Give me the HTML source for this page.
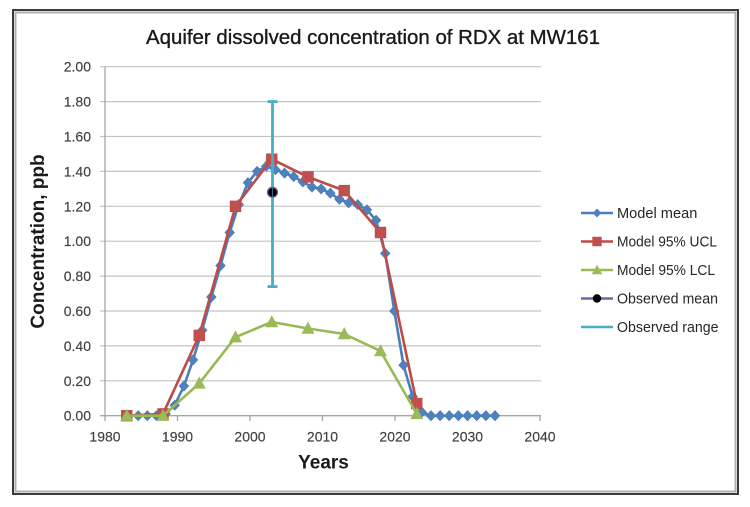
<!DOCTYPE html>
<html>
<head>
<meta charset="utf-8">
<style>
  html, body { margin: 0; padding: 0; background: #ffffff; }
  body { width: 750px; height: 507px; overflow: hidden; }
  svg { display: block; }
  text { font-family: "Liberation Sans", Arial, sans-serif; }
</style>
</head>
<body>
<svg width="750" height="507" viewBox="0 0 750 507" xmlns="http://www.w3.org/2000/svg">
  <rect x="0" y="0" width="750" height="507" fill="#ffffff"/>
  <!-- frame -->
  <rect x="13" y="10" width="725" height="484" fill="none" stroke="#3a3a3a" stroke-width="2"/>
  <rect x="15.5" y="12.5" width="720" height="479" fill="none" stroke="#b0b0b0" stroke-width="2"/>

  <!-- title -->
  <text x="373" y="44" font-size="20" fill="#1a1a1a" stroke="#1a1a1a" stroke-width="0.35" text-anchor="middle" textLength="454" lengthAdjust="spacingAndGlyphs">Aquifer dissolved concentration of RDX at MW161</text>

  <!-- gridlines -->
  <g stroke="#c4c4c4" stroke-width="1.2">
    <line x1="100" y1="66.7" x2="541" y2="66.7"/>
    <line x1="100" y1="101.6" x2="541" y2="101.6"/>
    <line x1="100" y1="136.5" x2="541" y2="136.5"/>
    <line x1="100" y1="171.4" x2="541" y2="171.4"/>
    <line x1="100" y1="206.3" x2="541" y2="206.3"/>
    <line x1="100" y1="241.2" x2="541" y2="241.2"/>
    <line x1="100" y1="276.1" x2="541" y2="276.1"/>
    <line x1="100" y1="311.0" x2="541" y2="311.0"/>
    <line x1="100" y1="345.9" x2="541" y2="345.9"/>
    <line x1="100" y1="380.8" x2="541" y2="380.8"/>
  </g>
  <!-- axes -->
  <g stroke="#a6a6a6" stroke-width="1.3">
    <line x1="105" y1="66.7" x2="105" y2="415.7"/>
    <line x1="100" y1="415.7" x2="541" y2="415.7"/>
    <line x1="105" y1="415.7" x2="105" y2="421"/>
    <line x1="177.5" y1="415.7" x2="177.5" y2="421"/>
    <line x1="250" y1="415.7" x2="250" y2="421"/>
    <line x1="322.5" y1="415.7" x2="322.5" y2="421"/>
    <line x1="395" y1="415.7" x2="395" y2="421"/>
    <line x1="467.5" y1="415.7" x2="467.5" y2="421"/>
    <line x1="540" y1="415.7" x2="540" y2="421"/>
  </g>

  <!-- y tick labels -->
  <g font-size="14" fill="#404040" stroke="#404040" stroke-width="0.15" text-anchor="end">
    <text x="91" y="71.7">2.00</text>
    <text x="91" y="106.6">1.80</text>
    <text x="91" y="141.5">1.60</text>
    <text x="91" y="176.4">1.40</text>
    <text x="91" y="211.3">1.20</text>
    <text x="91" y="246.2">1.00</text>
    <text x="91" y="281.1">0.80</text>
    <text x="91" y="316.0">0.60</text>
    <text x="91" y="350.9">0.40</text>
    <text x="91" y="385.8">0.20</text>
    <text x="91" y="420.7">0.00</text>
  </g>
  <!-- x tick labels -->
  <g font-size="14" fill="#404040" stroke="#404040" stroke-width="0.15" text-anchor="middle">
    <text x="105" y="441.7">1980</text>
    <text x="177.5" y="441.7">1990</text>
    <text x="250" y="441.7">2000</text>
    <text x="322.5" y="441.7">2010</text>
    <text x="395" y="441.7">2020</text>
    <text x="467.5" y="441.7">2030</text>
    <text x="540" y="441.7">2040</text>
  </g>

  <!-- axis titles -->
  <text x="323.5" y="468.5" font-size="19" font-weight="bold" fill="#1a1a1a" text-anchor="middle">Years</text>
  <text transform="translate(44 241.5) rotate(-90)" font-size="19" font-weight="bold" fill="#1a1a1a" text-anchor="middle">Concentration, ppb</text>

  <defs>
    <path id="dia" d="M0,-5 L4.7,0 L0,5 L-4.7,0 Z" fill="#4f81bd" stroke="#4a7ebb" stroke-width="0.8"/>
    <rect id="sq" x="-5.3" y="-5.3" width="10.6" height="10.6" fill="#c0504d" stroke="#be4b48" stroke-width="0.8"/>
    <path id="tri" d="M0,-6 L5.8,4.8 L-5.8,4.8 Z" fill="#9bbb59" stroke="#98b954" stroke-width="0.8"/>
  </defs>

  <!-- Model mean -->
  <polyline fill="none" stroke="#4a7ebb" stroke-width="2.6" stroke-linejoin="round"
    points="129,415.7 138.15,415.7 147.3,415.7 156.45,415.7 165.6,413.9 174.75,405.2 183.9,386 193.05,359.9 202.2,330.2 211.35,297 220.5,265.6 229.65,232.5 238.8,204.6 247.95,182.7 257.1,171.4 266.25,166.2 275.4,169.7 284.55,173.1 293.7,176.6 302.85,181.9 312,187.1 321.15,188.9 330.3,193.2 339.45,199.3 348.6,202.8 357.75,204.6 366.9,209.8 376.05,220.3 385.2,253.4 394.35,311 403.5,365.1 412.65,396.5 421.8,412.2 430.95,415.7 440.1,415.7 449.25,415.7 458.4,415.7 467.55,415.7 476.7,415.7 485.85,415.7 495,415.7"/>
  <g>
    <use href="#dia" x="129" y="415.7"/><use href="#dia" x="138.15" y="415.7"/><use href="#dia" x="147.3" y="415.7"/><use href="#dia" x="156.45" y="415.7"/>
    <use href="#dia" x="165.6" y="413.9"/><use href="#dia" x="174.75" y="405.2"/><use href="#dia" x="183.9" y="386"/><use href="#dia" x="193.05" y="359.9"/>
    <use href="#dia" x="202.2" y="330.2"/><use href="#dia" x="211.35" y="297"/><use href="#dia" x="220.5" y="265.6"/><use href="#dia" x="229.65" y="232.5"/>
    <use href="#dia" x="238.8" y="204.6"/><use href="#dia" x="247.95" y="182.7"/><use href="#dia" x="257.1" y="171.4"/><use href="#dia" x="266.25" y="166.2"/>
    <use href="#dia" x="275.4" y="169.7"/><use href="#dia" x="284.55" y="173.1"/><use href="#dia" x="293.7" y="176.6"/><use href="#dia" x="302.85" y="181.9"/>
    <use href="#dia" x="312" y="187.1"/><use href="#dia" x="321.15" y="188.9"/><use href="#dia" x="330.3" y="193.2"/><use href="#dia" x="339.45" y="199.3"/>
    <use href="#dia" x="348.6" y="202.8"/><use href="#dia" x="357.75" y="204.6"/><use href="#dia" x="366.9" y="209.8"/><use href="#dia" x="376.05" y="220.3"/>
    <use href="#dia" x="385.2" y="253.4"/><use href="#dia" x="394.35" y="311"/><use href="#dia" x="403.5" y="365.1"/><use href="#dia" x="412.65" y="396.5"/>
    <use href="#dia" x="421.8" y="412.2"/><use href="#dia" x="430.95" y="415.7"/><use href="#dia" x="440.1" y="415.7"/><use href="#dia" x="449.25" y="415.7"/>
    <use href="#dia" x="458.4" y="415.7"/><use href="#dia" x="467.55" y="415.7"/><use href="#dia" x="476.7" y="415.7"/><use href="#dia" x="485.85" y="415.7"/>
    <use href="#dia" x="495" y="415.7"/>
  </g>

  <!-- Model 95% UCL -->
  <polyline fill="none" stroke="#be4b48" stroke-width="2.6" stroke-linejoin="round"
    points="126.75,415.7 163,413.9 199.25,335.4 235.5,206.3 271.75,159.2 308,176.9 344.25,190.6 380.5,232.5 416.75,403.5"/>
  <g>
    <use href="#sq" x="126.75" y="415.7"/><use href="#sq" x="163" y="413.9"/><use href="#sq" x="199.25" y="335.4"/>
    <use href="#sq" x="235.5" y="206.3"/><use href="#sq" x="271.75" y="159.2"/><use href="#sq" x="308" y="176.9"/>
    <use href="#sq" x="344.25" y="190.6"/><use href="#sq" x="380.5" y="232.5"/><use href="#sq" x="416.75" y="403.5"/>
  </g>

  <!-- Model 95% LCL -->
  <polyline fill="none" stroke="#98b954" stroke-width="2.6" stroke-linejoin="round"
    points="126.75,415.7 163,415.7 199.25,383.4 235.5,337.2 271.75,322 308,328.5 344.25,334 380.5,351.1 416.75,413.9"/>
  <g>
    <use href="#tri" x="126.75" y="415.7"/><use href="#tri" x="163" y="415.7"/><use href="#tri" x="199.25" y="383.4"/>
    <use href="#tri" x="235.5" y="337.2"/><use href="#tri" x="271.75" y="322"/><use href="#tri" x="308" y="328.5"/>
    <use href="#tri" x="344.25" y="334"/><use href="#tri" x="380.5" y="351.1"/><use href="#tri" x="416.75" y="413.9"/>
  </g>

  <!-- Observed range -->
  <g stroke="#4bacc6" stroke-width="2.8">
    <line x1="272.5" y1="101.6" x2="272.5" y2="286.6"/>
    <line x1="267.5" y1="101.6" x2="277.5" y2="101.6"/>
    <line x1="267.5" y1="286.6" x2="277.5" y2="286.6"/>
  </g>

  <!-- Observed mean -->
  <circle cx="272.5" cy="192.3" r="5" fill="#000000" stroke="#7d60a0" stroke-width="1.3"/>
  <line x1="272.5" y1="187.8" x2="272.5" y2="196.8" stroke="#4bacc6" stroke-width="1.2" opacity="0.6"/>

  <!-- legend -->
  <g>
    <line x1="581" y1="213" x2="613" y2="213" stroke="#4a7ebb" stroke-width="2.6"/>
    <path d="M597,208.5 L601.3,213 L597,217.5 L592.7,213 Z" fill="#4f81bd"/>
    <text x="617" y="218" font-size="14.6" fill="#262626">Model mean</text>

    <line x1="581" y1="241.5" x2="613" y2="241.5" stroke="#be4b48" stroke-width="2.6"/>
    <rect x="592.3" y="236.8" width="9.4" height="9.4" fill="#c0504d"/>
    <text x="617" y="246.5" font-size="14.6" fill="#262626" textLength="100" lengthAdjust="spacingAndGlyphs">Model 95% UCL</text>

    <line x1="581" y1="270" x2="613" y2="270" stroke="#98b954" stroke-width="2.6"/>
    <path d="M597,264.8 L602.3,274.2 L591.7,274.2 Z" fill="#9bbb59"/>
    <text x="617" y="275" font-size="14.6" fill="#262626" textLength="98" lengthAdjust="spacingAndGlyphs">Model 95% LCL</text>

    <line x1="581" y1="298.5" x2="613" y2="298.5" stroke="#7d60a0" stroke-width="2.6"/>
    <circle cx="597" cy="298.5" r="4.2" fill="#000000"/>
    <text x="617" y="303.5" font-size="14.6" fill="#262626" textLength="101" lengthAdjust="spacingAndGlyphs">Observed mean</text>

    <line x1="581" y1="327" x2="613" y2="327" stroke="#4bacc6" stroke-width="2.6"/>
    <text x="617" y="332" font-size="14.6" fill="#262626" textLength="101.5" lengthAdjust="spacingAndGlyphs">Observed range</text>
  </g>
</svg>
</body>
</html>
